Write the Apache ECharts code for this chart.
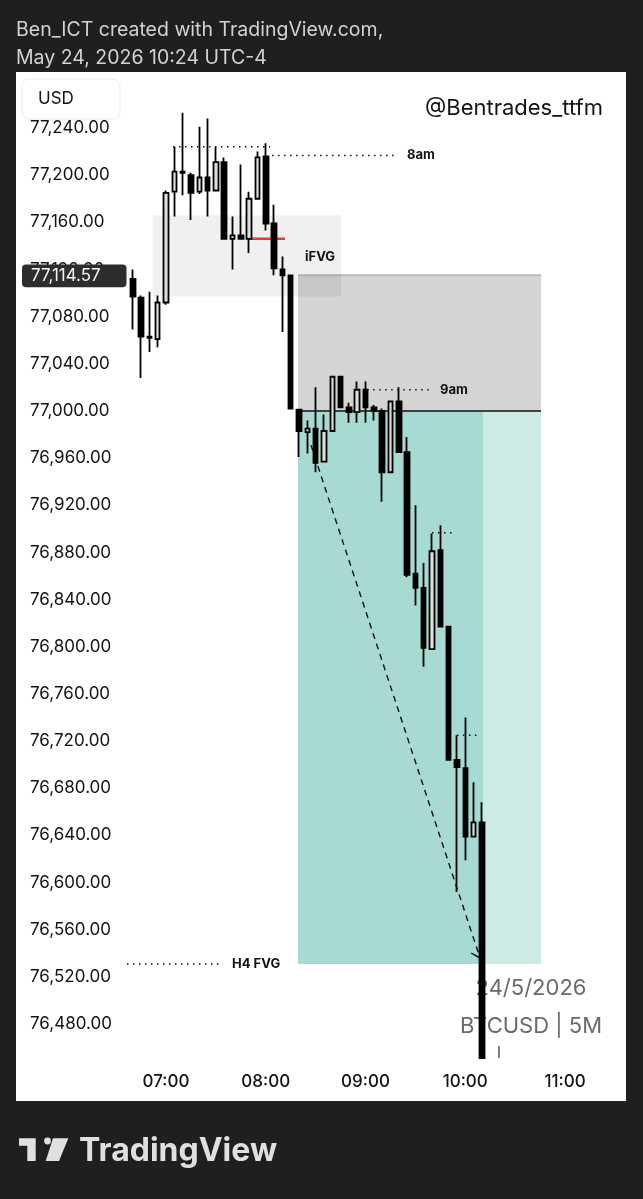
<!DOCTYPE html>
<html><head><meta charset="utf-8">
<script src="https://cdn.jsdelivr.net/npm/echarts@6/dist/echarts.min.js"></script>
<style>html,body{margin:0;padding:0;background:#1f1f1f}#c{width:643px;height:1199px}</style>
</head><body><div id="c"></div>
<script>
// ---- candle data (5-minute BTCUSD) ----
const times  = ['06:40','06:45','06:50','06:55','07:00','07:05','07:10','07:15','07:20','07:25','07:30','07:35','07:40','07:45','07:50','07:55','08:00','08:05','08:10','08:15','08:20','08:25','08:30','08:35','08:40','08:45','08:50','08:55','09:00','09:05','09:10','09:15','09:20','09:25','09:30','09:35','09:40','09:45','09:50','09:55','10:00','10:05','10:10'];
const opens  = [77112,77096,77063,77061,77092,77186,77203,77200,77186,77198,77187,77211,77146,77149,77146,77180,77216,77159,77120,77115,77001,76982,76985,76957,76983,77029,77003,76999,77018,77003,77000,76948,77008,76965,76862,76850,76798,76882,76817,76704,76697,76639,76651];
const closes = [77097,77063,77062,77092,77185,77203,77202,77185,77198,77187,77211,77146,77149,77146,77180,77215,77159,77121,77115,77002,76983,76985,76956,76983,77029,77003,76999,77018,77003,77000,76948,77008,76965,76861,76850,76799,76881,76817,76704,76698,76639,76651,76451];
const lows   = [77069,77028,77050,77054,77090,77165,77183,77162,77184,77165,77187,77146,77120,77146,77134,77180,77153,77115,77067,77002,76961,76964,76948,76957,76983,77003,76990,76990,76990,76992,76923,76948,76965,76859,76835,76783,76798,76817,76704,76592,76619,76639,76451];
const highs  = [77120,77098,77101,77098,77187,77224,77253,77202,77241,77248,77224,77215,77165,77209,77186,77220,77227,77175,77131,77115,77001,76992,77020,76997,77029,77029,77007,77025,77025,77005,77002,77008,77020,76978,76920,76871,76896,76903,76817,76725,76740,76685,76668];

// ---- axes ----
const yTicks = [76480,76520,76560,76600,76640,76680,76720,76760,76800,76840,76880,76920,76960,77000,77040,77080,77120,77160,77200,77240];
const xTicks = ['07:00','08:00','09:00','10:00','11:00'];
const lastPrice = 77114.57;

// ---- drawings (time in minutes after midnight, price) ----
const ifvgZone    = [412, 525.3, 77166, 77097];
const stopZone    = [499.4, 645.6, 77116, 77000];
const targetZone  = [499.4, 610.7, 77000, 76531];
const targetAhead = [610.7, 645.6, 77000, 76531];
const dottedLines = [[424.2, 482.6, 77224], [483.8, 559, 77216.7], [541, 580, 77018], [580, 592.6, 76896.7], [595, 608.3, 76725], [396.5, 454.3, 76531]];
const entryLine   = [499.4, 645.6, 77000];
const stopLine    = [499.4, 645.6, 77115];
const redLine     = [470.5, 491.6, 77146];
const arrowPath   = [507.2, 76971, 608.9, 76536];
const labelTexts  = ['8am', 'iFVG', '9am', 'H4 FVG'];
const labelTimes  = [565, 503.6, 584.8, 459.7];
const labelPrices = [77216.7, 77130.6, 77018, 76531];

const toMin = s => { const [h, m] = s.split(':').map(Number); return h * 60 + m; };
const fmtPrice = v => v.toLocaleString('en-US', {minimumFractionDigits: 2, maximumFractionDigits: 2});

const zoneFills = ['rgba(0,0,0,0.06)', 'rgba(0,0,0,0.17)', 'rgba(8,153,129,0.36)', 'rgba(8,153,129,0.2)'];
const solidStyles = [{stroke: '#111', lineWidth: 1.5}, {stroke: 'rgba(0,0,0,0.12)', lineWidth: 2}, {stroke: '#e53935', lineWidth: 2.5}];

const FONT = 'Inter, Roboto, sans-serif';
const chart = echarts.init(document.getElementById('c'), null, {renderer: 'canvas'});

const option = {
  animation: false,
  backgroundColor: '#1f1f1f',
  grid: {left: 127, right: 17, top: 80.84, height: 990.32, outerBoundsMode: 'none', containLabel: false},
  xAxis: {
    type: 'value', min: 396.54, max: 696.69, z: 4,
    axisLine: {show: false}, axisTick: {show: false}, splitLine: {show: false},
    axisLabel: {
      customValues: xTicks.map(toMin), margin: 2,
      formatter: v => xTicks.find(s => toMin(s) === v) || '',
      color: '#131313', fontFamily: FONT, fontSize: 17, fontWeight: 500
    }
  },
  yAxis: {
    type: 'value', min: 76440, max: 77280, z: 4,
    axisLine: {show: false}, axisTick: {show: false}, splitLine: {show: false},
    axisLabel: {
      customValues: yTicks, align: 'left', margin: 97,
      formatter: v => fmtPrice(v),
      color: '#131313', fontFamily: FONT, fontSize: 17
    }
  },
  graphic: [
    {type: 'rect', z: 0, shape: {x: 16, y: 72, width: 610, height: 1029}, style: {fill: '#ffffff'}},
    {type: 'text', z: 1, x: 16, y: 30, style: {text: 'Ben_ICT created with TradingView.com,', font: '19.5px ' + FONT, fill: '#d2d2d2', verticalAlign: 'middle', textVerticalAlign: 'middle'}},
    {type: 'text', z: 1, x: 16, y: 58, style: {text: 'May 24, 2026 10:24 UTC-4', font: '19.5px ' + FONT, fill: '#d2d2d2', verticalAlign: 'middle', textVerticalAlign: 'middle'}},
    {type: 'text', z: 1, x: 531, y: 988, style: {text: '24/5/2026', font: '22px ' + FONT, fill: '#6a6a6a', align: 'center', textAlign: 'center', verticalAlign: 'middle', textVerticalAlign: 'middle'}},
    {type: 'text', z: 1, x: 531, y: 1026, style: {text: 'BTCUSD | 5M', font: '22px ' + FONT, fill: '#6a6a6a', align: 'center', textAlign: 'center', verticalAlign: 'middle', textVerticalAlign: 'middle'}},
    {type: 'line', z: 1, shape: {x1: 499, y1: 1046, x2: 499, y2: 1058}, style: {stroke: '#555', lineWidth: 1.5}},
    {type: 'rect', z: 30, shape: {x: 22, y: 79, width: 98, height: 40, r: 7}, style: {fill: '#ffffff', stroke: '#ededed', lineWidth: 1}},
    {type: 'text', z: 31, x: 38, y: 99, style: {text: 'USD', font: '17px ' + FONT, fill: '#131313', verticalAlign: 'middle', textVerticalAlign: 'middle'}},
    {type: 'text', z: 31, x: 603, y: 108, style: {text: '@Bentrades_ttfm', font: '22px ' + FONT, fill: '#131313', align: 'right', textAlign: 'right', verticalAlign: 'middle', textVerticalAlign: 'middle'}},
    // footer logo
    {type: 'polygon', z: 1, shape: {points: [[19, 1138.3], [35.7, 1138.3], [35.7, 1161], [27.3, 1161], [27.3, 1145.7], [19, 1145.7]]}, style: {fill: '#e0e0e0'}},
    {type: 'circle', z: 1, shape: {cx: 47.5, cy: 1141, r: 3.4}, style: {fill: '#e0e0e0'}},
    {type: 'polygon', z: 1, shape: {points: [[53, 1138.3], [68.3, 1138.3], [59, 1161], [45.7, 1161]]}, style: {fill: '#e0e0e0'}},
    {type: 'text', z: 1, x: 79, y: 1151, style: {text: 'TradingView', font: 'bold 32px ' + FONT, fill: '#e0e0e0', verticalAlign: 'middle', textVerticalAlign: 'middle'}}
  ],
  series: [
    {
      type: 'custom', z: 2, clip: true,
      data: [ifvgZone, stopZone, targetZone, targetAhead],
      renderItem: (params, api) => {
        const a = api.coord([api.value(0), api.value(2)]);
        const b = api.coord([api.value(1), api.value(3)]);
        return {type: 'rect', shape: {x: a[0], y: a[1], width: b[0] - a[0], height: b[1] - a[1]}, style: {fill: zoneFills[params.dataIndex]}};
      }
    },
    {
      type: 'custom', z: 3, clip: true,
      data: [entryLine, stopLine, redLine],
      renderItem: (params, api) => {
        const a = api.coord([api.value(0), api.value(2)]);
        const b = api.coord([api.value(1), api.value(2)]);
        return {type: 'line', shape: {x1: a[0], y1: a[1], x2: b[0], y2: b[1]}, style: solidStyles[params.dataIndex]};
      }
    },
    {
      type: 'custom', z: 3, clip: true,
      data: dottedLines,
      renderItem: (params, api) => {
        const a = api.coord([api.value(0), api.value(2)]);
        const b = api.coord([api.value(1), api.value(2)]);
        return {type: 'line', shape: {x1: a[0], y1: a[1], x2: b[0], y2: b[1]}, style: {stroke: '#111', lineWidth: 1.5, lineDash: [1.5, 4.5]}};
      }
    },
    {
      type: 'custom', z: 3, clip: false,
      data: [arrowPath],
      renderItem: (params, api) => {
        const a = api.coord([api.value(0), api.value(1)]);
        const b = api.coord([api.value(2), api.value(3)]);
        const ang = Math.atan2(b[1] - a[1], b[0] - a[0]);
        const L = 10, spread = 0.75;
        const p1 = [b[0] - L * Math.cos(ang - spread), b[1] - L * Math.sin(ang - spread)];
        const p2 = [b[0] - L * Math.cos(ang + spread), b[1] - L * Math.sin(ang + spread)];
        return {type: 'group', children: [
          {type: 'line', shape: {x1: a[0], y1: a[1], x2: b[0], y2: b[1]}, style: {stroke: '#111', lineWidth: 1.4, lineDash: [6, 5]}},
          {type: 'polyline', shape: {points: [p1, b, p2]}, style: {stroke: '#111', lineWidth: 1.4, fill: null}}
        ]};
      }
    },
    {
      type: 'custom', z: 3, clip: false,
      data: labelTimes.map((t, i) => [t, labelPrices[i]]),
      renderItem: (params, api) => {
        const p = api.coord([api.value(0), api.value(1)]);
        return {type: 'text', x: p[0], y: p[1], style: {text: labelTexts[params.dataIndex], font: 'bold 13px ' + FONT, fill: '#111', verticalAlign: 'middle', textVerticalAlign: 'middle'}};
      }
    },
    {
      type: 'candlestick', z: 5, barWidth: 5,
      data: times.map((t, i) => [toMin(t), opens[i], closes[i], lows[i], highs[i]]),
      itemStyle: {color: '#dedede', color0: '#000000', borderColor: '#000000', borderColor0: '#000000', borderColorDoji: '#000000', borderWidth: 1.8}
    },
    {
      type: 'custom', z: 20, clip: false,
      data: [[396.54, lastPrice]],
      renderItem: (params, api) => {
        const y = api.coord([api.value(0), api.value(1)])[1];
        return {type: 'group', children: [
          {type: 'rect', shape: {x: 22, y: y - 11.3, width: 104.5, height: 22.6, r: 4}, style: {fill: '#2d2d2d'}},
          {type: 'text', x: 31, y: y, style: {text: fmtPrice(api.value(1)), font: '17px ' + FONT, fill: '#f2f2f2', verticalAlign: 'middle', textVerticalAlign: 'middle'}}
        ]};
      }
    }
  ]
};
chart.setOption(option);
</script></body></html>
